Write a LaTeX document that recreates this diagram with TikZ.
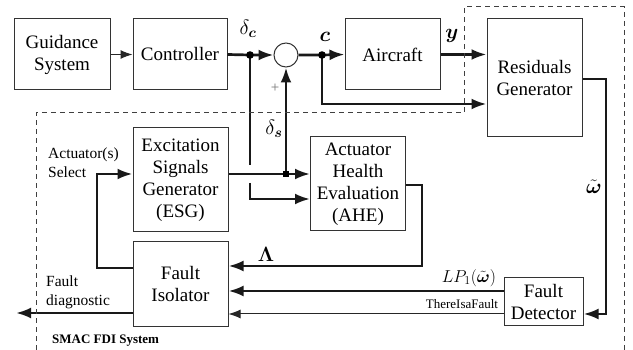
\documentclass[tikz,border=0pt]{standalone}
\usepackage{fontspec}
\setmainfont{Liberation Serif}
\usepackage{amsmath}
\usepackage{bm}
\usetikzlibrary{arrows.meta,calc}
\begin{document}
\begin{tikzpicture}[x=1pt,y=-1pt,
  blk/.style={draw=black!80,line width=1pt,rectangle,align=center,inner sep=0pt,
     font=\rmfamily\fontsize{19}{22}\selectfont},
  thk/.style={line width=2.7pt,draw=black!90},
  thn/.style={line width=1pt,draw=black!85},
  arr/.style={-{Latex[length=15pt,width=11pt]}},
  sarr/.style={-{Latex[length=12pt,width=9pt]}},
  lbl/.style={inner sep=0pt,font=\rmfamily\fontsize{15.5}{19}\selectfont,align=left},
  mlbl/.style={inner sep=0pt,font=\fontsize{22}{24}\selectfont},
  dsh/.style={draw=black!75,line width=1pt,dash pattern=on 5pt off 4pt}
]
\useasboundingbox (0,0) rectangle (633,350);
% blocks
\node[blk,minimum width=96pt,minimum height=71pt] (gs) at (62,54.5) {Guidance\\System};
\node[blk,minimum width=94pt,minimum height=71pt] (ctrl) at (180,54.5) {Controller};
\node[draw=black!80,line width=1pt,circle,minimum size=24pt,inner sep=0pt] (sum) at (286,55) {};
\node[blk,minimum width=95pt,minimum height=71pt] (ac) at (392.5,54.5) {Aircraft};
\node[blk,minimum width=95pt,minimum height=118pt] (rg) at (534.5,78) {Residuals\\Generator};
\node[blk,minimum width=95pt,minimum height=104pt] (esg) at (180.5,180) {Excitation\\Signals\\Generator\\(ESG)};
\node[blk,minimum width=95pt,minimum height=94pt] (ahe) at (358,184) {Actuator\\Health\\Evaluation\\(AHE)};
\node[blk,minimum width=95pt,minimum height=85pt] (fi) at (180.5,284.5) {Fault\\Isolator};
\node[blk,minimum width=79pt,minimum height=48pt] (fd) at (543.5,302) {Fault\\Detector};
% junctions
\coordinate (jc) at (250,55);
\coordinate (jcc) at (322,55);
\coordinate (ds) at (286,174);
\coordinate (jcA) at (250,165);
\coordinate (jcB) at (250,183);
\coordinate (jcC) at (250,199);
\coordinate (rgA) at (606,79);
\coordinate (rgB) at (606,314);
\coordinate (aheA) at (422,185);
\coordinate (aheB) at (422,266);
\coordinate (fiA) at (97,268);
\coordinate (fiB) at (97,174);
\coordinate (fdo) at (16,313);
\coordinate (cB) at (322,104);
% connectors
\draw[thn,sarr] (gs.east) -- (ctrl.west);
\draw[thk,arr] (ctrl.east) -- (jc) -- (sum.west);
\draw[thk,arr] (sum.east) -- (jcc) -- (ac.west);
\draw[thk,arr] (ac.east) -- (ac.east -| rg.west);
\draw[thk,arr] (jcc) -- (cB) -- (cB -| rg.west);
\draw[thk,arr] (rg.east |- rgA) -- (rgA) -- (rgB) -- (rgB -| fd.east);
\draw[thk] (jc) -- (jcA);
\draw[thk,arr] (jcB) -- (jcC) -- (jcC -| ahe.west);
\draw[thk,arr] (esg.east |- ds) -- (ds -| ahe.west);
\draw[thk,arr] (ds) -- (sum.south);
\draw[thk,arr] (ahe.east |- aheA) -- (aheA) -- (aheB) -- (aheB -| fi.east);
\draw[thk,arr] (fd.west |- 0,291) -- (fi.east |- 0,291);
\draw[thn,sarr] (fd.west |- 0,314) -- (fi.east |- 0,314);
\draw[thk,arr] (fi.west |- fiA) -- (fiA) -- (fiB) -- (fiB -| esg.west);
\draw[thk,arr] (fi.west |- fdo) -- (fdo);
\fill[black] (jc) circle (3.8pt);
\fill[black] (jcc) circle (3.8pt);
\fill[black] ($(ds)+(-3.2,-3.2)$) rectangle ($(ds)+(3.2,3.2)$);
% dashed boundary
\draw[dsh] (36,350) -- (36,113) -- (464,113) -- (464,7) -- (624,7) -- (624,350);
% labels
\node[mlbl] (ldc) at (248,29) {$\delta_{\bm c}$};
\node[inner sep=0pt,text=black!55,font=\fontsize{15}{15}\selectfont] (lplus) at (275,88) {+};
\node[mlbl] (lds) at (274,129) {$\delta_{\bm s}$};
\node[mlbl] (lc) at (325,37) {$\bm c$};
\node[mlbl] (ly) at (452,36) {$\bm y$};
\node[mlbl] (lw) at (594,187) {$\tilde{\bm\omega}$};
\node[inner sep=0pt,font=\fontsize{20}{22}\selectfont] (lL) at (266,254) {$\bm\Lambda$};
\node[inner sep=0pt,font=\fontsize{17}{19}\selectfont] (lLP) at (469,278) {$LP_1(\tilde{\bm\omega})$};
\node[inner sep=0pt,font=\rmfamily\fontsize{13}{15}\selectfont] (lT) at (462,304) {ThereIsaFault};
\node[lbl,anchor=west] (las) at (48,162.5) {Actuator(s)\\Select};
\node[lbl,anchor=west] (lfd) at (46,292.5) {Fault\\diagnostic};
\node[inner sep=0pt,anchor=west,font=\rmfamily\fontsize{13}{15}\selectfont\bfseries] (lsm) at (52,341) {SMAC FDI System};
\end{tikzpicture}
\end{document}
